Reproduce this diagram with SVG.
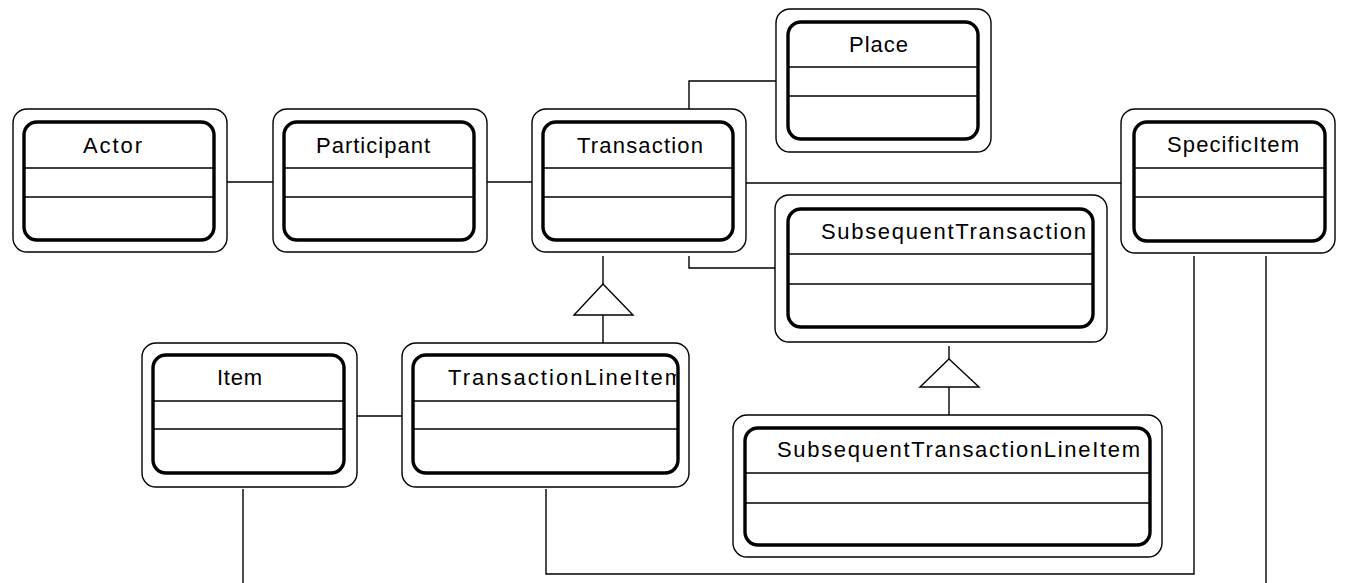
<svg xmlns="http://www.w3.org/2000/svg" width="1345" height="583" viewBox="0 0 1345 583">
  <style>
    .outer { fill: #ffffff; stroke: #000000; stroke-width: 1.4; }
    .inner { fill: none; stroke: #000000; stroke-width: 3.4; }
    .div { stroke: #000000; stroke-width: 1.4; }
    .name { font-family: "Liberation Sans", Arial, sans-serif; font-size: 22px; fill: #000000; }
    .conn { fill: none; stroke: #000000; stroke-width: 1.4; }
    .gen { fill: #ffffff; stroke: #000000; stroke-width: 1.4; }
  </style>
  <defs>
    <clipPath id="tliClip">
      <rect x="415" y="357" width="261" height="114" rx="12"/>
    </clipPath>
  </defs>

  <rect width="1345" height="583" fill="#ffffff"/>

  <!-- associations and generalisations -->
  <g id="connectors">
    <line class="conn" x1="227" y1="182" x2="273" y2="182"/>
    <line class="conn" x1="487" y1="182" x2="532" y2="182"/>
    <polyline class="conn" points="689,109 689,81 776,81"/>
    <line class="conn" x1="746" y1="183" x2="1121" y2="183"/>
    <polyline class="conn" points="689,256 689,268 775,268"/>
    <line class="conn" x1="357" y1="416" x2="402" y2="416"/>
    <polyline class="conn" points="546,489 546,574 1194,574 1194,256"/>
    <line class="conn" x1="243" y1="489" x2="243" y2="590"/>
    <line class="conn" x1="1266" y1="256" x2="1266" y2="590"/>
    <!-- TransactionLineItem is a Transaction -->
    <line class="conn" x1="603" y1="256" x2="603" y2="284"/>
    <line class="conn" x1="603" y1="315" x2="603" y2="343"/>
    <polygon class="gen" points="603,284 633,315 574,315"/>
    <!-- SubsequentTransactionLineItem is a SubsequentTransaction -->
    <line class="conn" x1="949" y1="346" x2="949" y2="359"/>
    <line class="conn" x1="949" y1="387" x2="949" y2="415"/>
    <polygon class="gen" points="949,359 979,387 920,387"/>
  </g>

  <g id="actor">
    <rect class="outer" x="13" y="109" width="214" height="143" rx="14"/>
    <rect class="inner" x="24" y="122" width="190" height="118" rx="13"/>
    <line class="div" x1="24" y1="168" x2="214" y2="168"/>
    <line class="div" x1="24" y1="197" x2="214" y2="197"/>
    <text class="name" x="83" y="153" textLength="59" lengthAdjust="spacing">Actor</text>
  </g>

  <g id="participant">
    <rect class="outer" x="273" y="109" width="214" height="143" rx="14"/>
    <rect class="inner" x="284" y="122" width="190" height="118" rx="13"/>
    <line class="div" x1="284" y1="168" x2="474" y2="168"/>
    <line class="div" x1="284" y1="197" x2="474" y2="197"/>
    <text class="name" x="316" y="153" textLength="114" lengthAdjust="spacing">Participant</text>
  </g>

  <g id="transaction">
    <rect class="outer" x="532" y="109" width="214" height="143" rx="14"/>
    <rect class="inner" x="543" y="122" width="190" height="118" rx="13"/>
    <line class="div" x1="543" y1="168" x2="733" y2="168"/>
    <line class="div" x1="543" y1="197" x2="733" y2="197"/>
    <text class="name" x="577" y="153" textLength="126" lengthAdjust="spacing">Transaction</text>
  </g>

  <g id="place">
    <rect class="outer" x="776" y="9" width="215" height="143" rx="14"/>
    <rect class="inner" x="788" y="22" width="190" height="117" rx="13"/>
    <line class="div" x1="788" y1="67" x2="978" y2="67"/>
    <line class="div" x1="788" y1="96" x2="978" y2="96"/>
    <text class="name" x="849" y="52" textLength="59" lengthAdjust="spacing">Place</text>
  </g>

  <g id="specific-item">
    <rect class="outer" x="1121" y="109" width="214" height="144" rx="14"/>
    <rect class="inner" x="1134" y="122" width="191" height="119" rx="13"/>
    <line class="div" x1="1134" y1="168" x2="1325" y2="168"/>
    <line class="div" x1="1134" y1="197" x2="1325" y2="197"/>
    <text class="name" x="1167" y="152" textLength="132" lengthAdjust="spacing">SpecificItem</text>
  </g>

  <g id="subsequent-transaction">
    <rect class="outer" x="775" y="195" width="332" height="147" rx="14"/>
    <rect class="inner" x="788" y="209" width="305" height="118" rx="13"/>
    <line class="div" x1="788" y1="254" x2="1093" y2="254"/>
    <line class="div" x1="788" y1="284" x2="1093" y2="284"/>
    <text class="name" x="821" y="239" textLength="265" lengthAdjust="spacing">SubsequentTransaction</text>
  </g>

  <g id="item">
    <rect class="outer" x="142" y="343" width="215" height="144" rx="14"/>
    <rect class="inner" x="153" y="355" width="191" height="118" rx="13"/>
    <line class="div" x1="153" y1="401" x2="344" y2="401"/>
    <line class="div" x1="153" y1="429" x2="344" y2="429"/>
    <text class="name" x="217" y="385" textLength="45" lengthAdjust="spacing">Item</text>
  </g>

  <g id="transaction-line-item">
    <rect class="outer" x="402" y="343" width="287" height="144" rx="14"/>
    <line class="div" x1="413" y1="401" x2="678" y2="401"/>
    <line class="div" x1="413" y1="429" x2="678" y2="429"/>
    <text class="name" x="448" y="385" textLength="235" lengthAdjust="spacing" clip-path="url(#tliClip)">TransactionLineItem</text>
    <rect class="inner" x="413" y="355" width="265" height="118" rx="13"/>
  </g>

  <g id="subsequent-transaction-line-item">
    <rect class="outer" x="733" y="415" width="429" height="142" rx="14"/>
    <rect class="inner" x="745" y="428" width="405" height="117" rx="13"/>
    <line class="div" x1="745" y1="473" x2="1150" y2="473"/>
    <line class="div" x1="745" y1="503" x2="1150" y2="503"/>
    <text class="name" x="777" y="457" textLength="363" lengthAdjust="spacing">SubsequentTransactionLineItem</text>
  </g>
</svg>
